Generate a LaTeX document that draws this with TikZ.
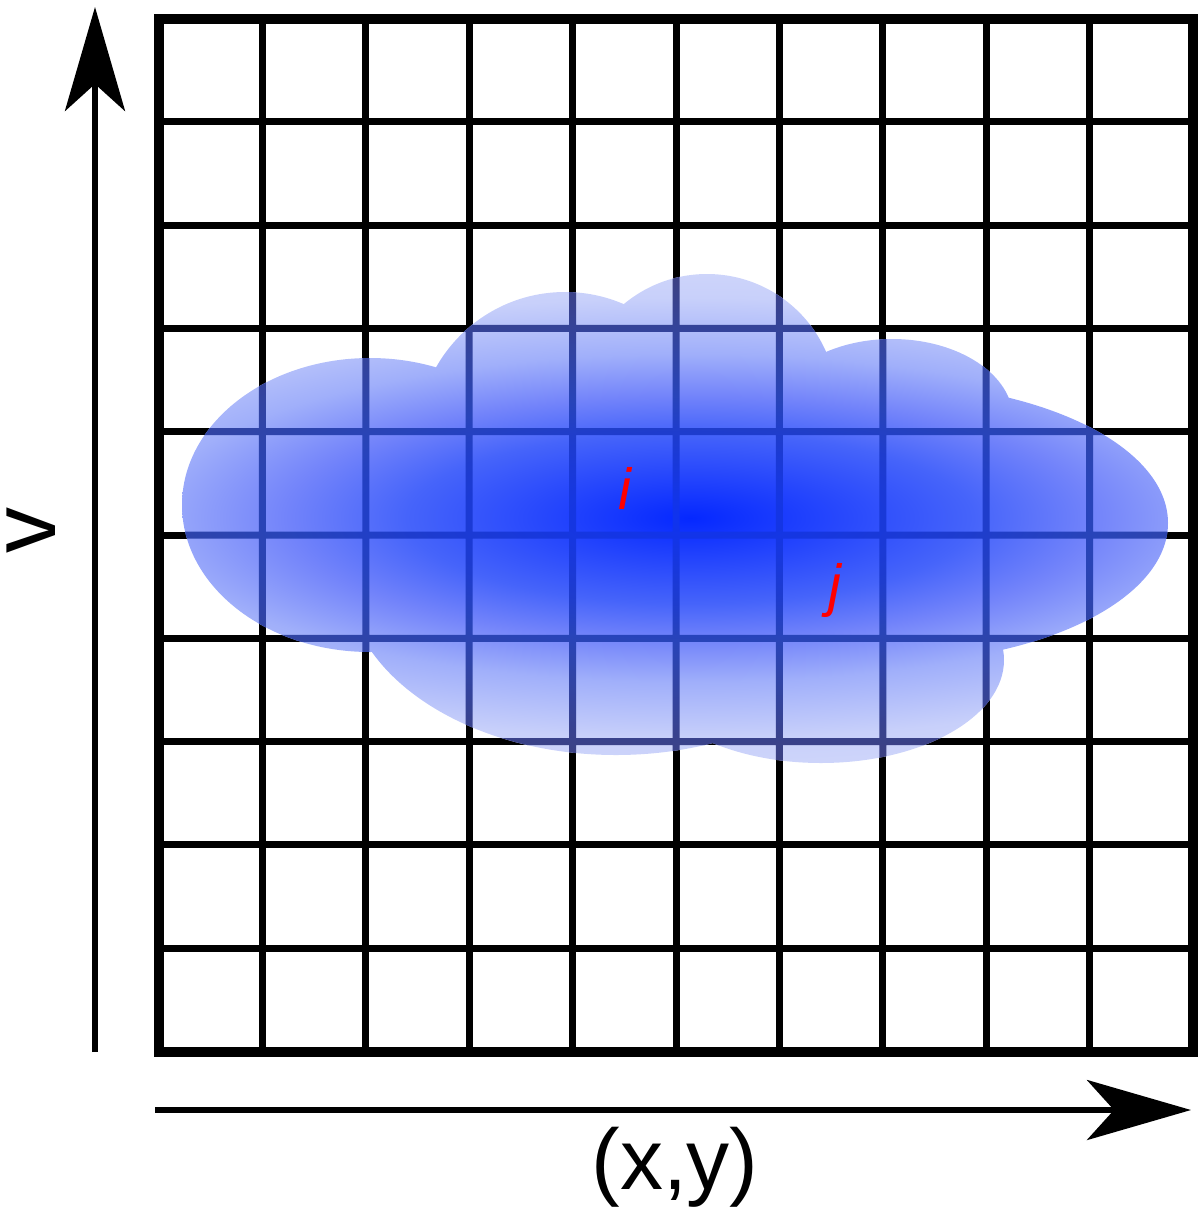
\documentclass[tikz,border=0pt]{standalone}
\usepackage{fontspec}
\setmainfont{Liberation Sans}
\usetikzlibrary{arrows.meta}
% colours of the cloud as seen over white (fill) and over the black grid lines (line)
\definecolor{cfA}{RGB}{5,40,255}
\definecolor{cfB}{RGB}{70,100,250}
\definecolor{cfC}{RGB}{115,132,250}
\definecolor{cfD}{RGB}{160,175,250}
\definecolor{cfE}{RGB}{200,208,250}
\definecolor{cfF}{RGB}{205,212,250}
\definecolor{clA}{RGB}{15,50,240}
\definecolor{clB}{RGB}{30,60,205}
\definecolor{clC}{RGB}{40,68,185}
\definecolor{clD}{RGB}{48,68,165}
\definecolor{clE}{RGB}{57,66,140}
\definecolor{clF}{RGB}{60,65,130}
\pgfdeclareradialshading{cloudfill}{\pgfpoint{0bp}{0bp}}{color(0bp)=(cfA); color(8.75bp)=(cfB); color(12.5bp)=(cfC); color(16.75bp)=(cfD); color(22.5bp)=(cfE); color(25bp)=(cfF); color(50bp)=(cfF)}
\pgfdeclareradialshading{cloudline}{\pgfpoint{0bp}{0bp}}{color(0bp)=(clA); color(8.75bp)=(clB); color(12.5bp)=(clC); color(16.75bp)=(clD); color(22.5bp)=(clE); color(25bp)=(clF); color(50bp)=(clF)}
\begin{document}
\begin{tikzpicture}[x=1pt,y=-1pt,
  gridline/.style={line width=7pt},
  gridframe/.style={line width=10pt},
  axis/.style={line width=6pt,-{Stealth[length=104pt,width=60pt,inset=27pt]}},
  lbl/.style={inner sep=0pt},
  idx/.style={inner sep=0pt,text=red,font=\fontsize{58}{62}\selectfont\itshape}]
\useasboundingbox (0,0) rectangle (1200,1216);
% grid
\foreach \k in {1,...,9}{
  \draw[gridline] (159+\k*103.4,18.5) -- (159+\k*103.4,1051.5);
  \draw[gridline] (159,18.5+\k*103.3) -- (1193,18.5+\k*103.3);
}
\draw[gridframe] (159,18.5) rectangle (1193,1051.5);
% cloud
\begin{scope}
  \clip (370,505) ellipse [x radius=188pt, y radius=147pt]
        (565,440) ellipse [x radius=148pt, y radius=148pt]
        (707,404) ellipse [x radius=130pt, y radius=130pt]
        (892,419) ellipse [x radius=121pt, y radius=80pt]
        (880,523) ellipse [x radius=288pt, y radius=140pt]
        (616,575) ellipse [x radius=270pt, y radius=180pt]
        (821,660) ellipse [x radius=183pt, y radius=103pt];
  \shade[shading=cloudfill] (-120,273) rectangle (1500,763);
  \clip \foreach \k in {1,...,9}{
      (159+\k*103.4-3.5,18.5) rectangle (159+\k*103.4+3.5,1051.5)
      (159,18.5+\k*103.3-3.5) rectangle (1193,18.5+\k*103.3+3.5)};
  \shade[shading=cloudline] (-120,273) rectangle (1500,763);
\end{scope}
% axes
\coordinate (vb) at (95,1052);
\coordinate (vt) at (95,7);
\coordinate (hl) at (155,1110);
\coordinate (hr) at (1191,1110);
\draw[axis] (vb) -- (vt);
\draw[axis] (hl) -- (hr);
% labels
\node[lbl,rotate=90,font=\fontsize{92}{96}\selectfont] (vlab) at (31,530) {v};
\node[lbl,font=\fontsize{86}{92}\selectfont] (xylab) at (675,1167) {(x,y)};
\node[idx] (ilab) at (625,488) {i};
\node[idx] (jlab) at (835,590) {j};
\end{tikzpicture}
\end{document}
